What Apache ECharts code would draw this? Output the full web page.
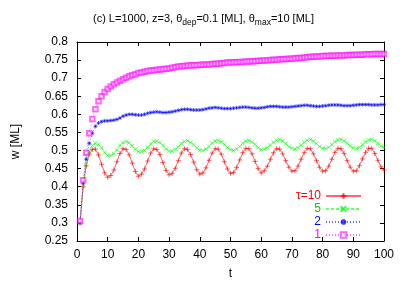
<!DOCTYPE html>
<html><head><meta charset="utf-8">
<script src="https://cdn.jsdelivr.net/npm/echarts@6/dist/echarts.min.js"></script>
<style>html,body{margin:0;padding:0;background:#fff}#c{width:407px;height:285px}</style>
</head><body><div id="c"></div>
<script>
const tValues = [1,2,3,4,5,6,7,8,9,10,11,12,13,14,15,16,17,18,19,20,21,22,23,24,25,26,27,28,29,30,31,32,33,34,35,36,37,38,39,40,41,42,43,44,45,46,47,48,49,50,51,52,53,54,55,56,57,58,59,60,61,62,63,64,65,66,67,68,69,70,71,72,73,74,75,76,77,78,79,80,81,82,83,84,85,86,87,88,89,90,91,92,93,94,95,96,97,98,99,100];
const tau10 = [0.300,0.400,0.458,0.490,0.503,0.504,0.488,0.462,0.438,0.426,
0.431,0.446,0.469,0.492,0.505,0.503,0.488,0.465,0.442,0.429,
0.435,0.449,0.471,0.493,0.505,0.503,0.489,0.467,0.445,0.433,
0.437,0.451,0.472,0.493,0.505,0.503,0.489,0.468,0.447,0.435,
0.438,0.452,0.473,0.493,0.505,0.504,0.490,0.469,0.449,0.437,
0.439,0.453,0.474,0.494,0.506,0.505,0.491,0.470,0.450,0.438,
0.444,0.457,0.476,0.494,0.505,0.504,0.491,0.472,0.454,0.443,
0.444,0.457,0.476,0.494,0.506,0.505,0.491,0.472,0.454,0.443,
0.444,0.457,0.476,0.495,0.506,0.505,0.492,0.472,0.454,0.443,
0.444,0.458,0.477,0.495,0.506,0.506,0.492,0.473,0.455,0.446];
const tau5 = [0.300,0.400,0.460,0.497,0.514,0.520,0.517,0.507,0.495,0.486,
0.486,0.491,0.502,0.514,0.522,0.525,0.521,0.513,0.503,0.497,
0.497,0.500,0.509,0.518,0.525,0.526,0.522,0.514,0.505,0.498,
0.499,0.503,0.510,0.519,0.525,0.527,0.523,0.516,0.507,0.501,
0.500,0.504,0.511,0.520,0.526,0.528,0.524,0.517,0.508,0.502,
0.500,0.504,0.511,0.520,0.526,0.528,0.524,0.517,0.508,0.502,
0.504,0.508,0.515,0.523,0.528,0.530,0.526,0.519,0.511,0.506,
0.504,0.508,0.515,0.523,0.528,0.530,0.526,0.519,0.511,0.506,
0.505,0.509,0.516,0.524,0.529,0.531,0.527,0.520,0.512,0.507,
0.505,0.509,0.516,0.524,0.529,0.531,0.527,0.520,0.512,0.508];
const tau2 = [0.300,0.410,0.476,0.520,0.548,0.567,0.576,0.580,0.582,0.582,
0.583,0.584,0.586,0.590,0.595,0.598,0.600,0.600,0.599,0.598,
0.598,0.600,0.603,0.605,0.606,0.607,0.606,0.605,0.605,0.606,
0.607,0.609,0.611,0.613,0.614,0.614,0.613,0.612,0.612,0.612,
0.613,0.615,0.617,0.618,0.619,0.618,0.617,0.616,0.616,0.616,
0.617,0.618,0.619,0.620,0.620,0.619,0.618,0.617,0.617,0.618,
0.619,0.621,0.622,0.622,0.622,0.621,0.620,0.620,0.620,0.621,
0.622,0.623,0.624,0.625,0.625,0.624,0.623,0.622,0.622,0.623,
0.624,0.625,0.626,0.626,0.626,0.625,0.624,0.624,0.624,0.625,
0.626,0.627,0.627,0.627,0.627,0.626,0.626,0.626,0.627,0.627];
const tau1 = [0.305,0.418,0.494,0.548,0.587,0.614,0.636,0.650,0.662,0.670,
0.677,0.683,0.688,0.693,0.697,0.701,0.705,0.708,0.711,0.714,
0.716,0.718,0.720,0.721,0.722,0.723,0.724,0.725,0.726,0.727,
0.729,0.730,0.732,0.733,0.734,0.735,0.735,0.736,0.736,0.737,
0.737,0.738,0.738,0.739,0.740,0.740,0.741,0.742,0.743,0.743,
0.744,0.744,0.745,0.745,0.746,0.746,0.747,0.747,0.748,0.748,
0.749,0.749,0.750,0.751,0.751,0.752,0.752,0.753,0.754,0.754,
0.755,0.756,0.756,0.757,0.758,0.759,0.759,0.760,0.760,0.761,
0.761,0.762,0.762,0.762,0.763,0.763,0.763,0.764,0.764,0.764,
0.765,0.765,0.765,0.766,0.766,0.766,0.767,0.767,0.767,0.767];
const legendNames = ['τ=10','5','2','1'];
const xTicks = {min:0, max:100, step:10};
const yTicks = {min:0.25, max:0.8, step:0.05};

function pairs(ys){ return tValues.map((t,i)=>[t, ys[i]]); }
const FONT = 'Liberation Sans';
const chart = echarts.init(document.getElementById('c'), null, {renderer:'canvas'});
const plusPath = 'path://M5,0L5,10M0,5L10,5';
const crossPath = 'path://M0,0L10,10M10,0L0,10';
const starPath = 'path://M5,0L5,10M0,5L10,5M1.5,1.5L8.5,8.5M8.5,1.5L1.5,8.5';
function mk(name, data, color, symbol, size, lineType, symOpacity){
  return {
    name, type:'line', data: pairs(data), xAxisIndex:0, yAxisIndex:0,
    symbol, symbolSize:size, showSymbol:true, showAllSymbol:true,
    color,
    lineStyle:{color, width:1, type:lineType, opacity:0.6},
    itemStyle:{color, borderColor:color, borderWidth:0.8, opacity:symOpacity},
    emphasis:{disabled:true}, animation:false
  };
}
const axisCommon = {
  type:'value', splitLine:{show:false},
  axisLine:{show:true, onZero:false, lineStyle:{color:'#000', width:1}},
  axisTick:{show:true, inside:true, length:4, lineStyle:{color:'#000'}}
};
chart.setOption({
  animation:false,
  backgroundColor:'#fff',
  title:{
    text:'(c) L=1000, z=3, θ{sub|dep}=0.1 [ML], θ{sub|max}=10 [ML]',
    left:'center', top:6,
    textStyle:{fontFamily:FONT, fontSize:11, fontWeight:'normal', color:'#000', lineHeight:16,
      rich:{sub:{fontFamily:FONT, fontSize:8.5, lineHeight:9, verticalAlign:'bottom', color:'#000'}}}
  },
  grid:{left:77, right:23, top:42, bottom:40},
  legend:{
    orient:'vertical', right:40, top:185, align:'right',
    itemWidth:35, itemHeight:7, itemGap:1,
    textStyle:{fontFamily:FONT, fontSize:12, lineHeight:12},
    data:[
      {name:legendNames[0], textStyle:{color:'#ff0000'}},
      {name:legendNames[1], textStyle:{color:'#00d000'}},
      {name:legendNames[2], textStyle:{color:'#0000ff'}},
      {name:legendNames[3], textStyle:{color:'#ff00ff'}}
    ]
  },
  xAxis:[
    Object.assign({}, axisCommon, {position:'bottom', min:xTicks.min, max:xTicks.max, interval:xTicks.step,
      name:'t', nameLocation:'middle', nameGap:27,
      nameTextStyle:{fontFamily:FONT, fontSize:12, color:'#000'},
      axisLabel:{fontFamily:FONT, fontSize:12, color:'#000', margin:8}}),
    Object.assign({}, axisCommon, {position:'top', min:xTicks.min, max:xTicks.max, interval:xTicks.step,
      axisLabel:{show:false}})
  ],
  yAxis:[
    Object.assign({}, axisCommon, {position:'left', min:yTicks.min, max:yTicks.max, interval:yTicks.step,
      name:'w [ML]', nameLocation:'middle', nameGap:55, nameRotate:90,
      nameTextStyle:{fontFamily:FONT, fontSize:12, color:'#000'},
      axisLabel:{fontFamily:FONT, fontSize:12, color:'#000', margin:9}}),
    Object.assign({}, axisCommon, {position:'right', min:yTicks.min, max:yTicks.max, interval:yTicks.step,
      axisLabel:{show:false}})
  ],
  series:[
    mk(legendNames[0], tau10, '#ff0000', plusPath, 5, 'solid', 0.75),
    mk(legendNames[1], tau5, '#00ff00', crossPath, 4, [3,2], 0.75),
    mk(legendNames[2], tau2, '#0000ff', starPath, 4, [1,2], 0.75),
    mk(legendNames[3], tau1, '#ff00ff', 'emptyRect', 4.5, [1,2], 0.6)
  ]
});
</script></body></html>
